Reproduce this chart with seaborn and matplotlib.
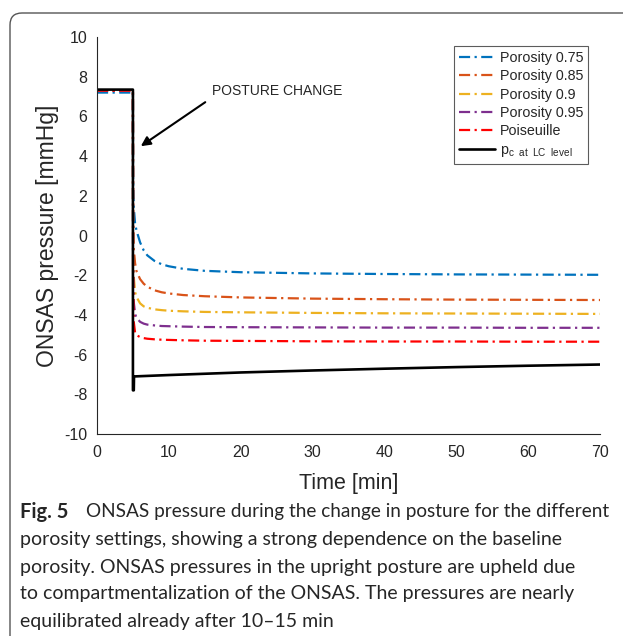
import matplotlib
matplotlib.use("Agg")
import matplotlib.pyplot as plt
import seaborn as sns
from matplotlib.patches import FancyBboxPatch
from matplotlib.transforms import IdentityTransform

# ---- data ----
t_por = [0, 5.0, 5.02, 5.1, 5.3, 5.5, 6.0, 6.5, 7.0, 8.0, 9.0, 10, 12, 15, 20, 30, 40, 50, 60, 70]
p_075 = [7.2, 7.2, 3.0, 1.5, 0.6, 0.25, -0.35, -0.75, -1.0, -1.28, -1.45, -1.55, -1.68, -1.78, -1.85, -1.91, -1.94, -1.96, -1.97, -1.98]
p_085 = [7.3, 7.3, 1.0, -0.6, -1.4, -1.8, -2.2, -2.43, -2.58, -2.76, -2.86, -2.92, -3.0, -3.06, -3.12, -3.18, -3.21, -3.23, -3.24, -3.25]
p_090 = [7.3, 7.3, 0.0, -2.0, -2.85, -3.1, -3.42, -3.57, -3.64, -3.72, -3.76, -3.79, -3.82, -3.85, -3.87, -3.9, -3.92, -3.93, -3.94, -3.95]
p_095 = [7.3, 7.3, -1.0, -3.3, -3.95, -4.15, -4.35, -4.44, -4.49, -4.53, -4.56, -4.57, -4.59, -4.61, -4.62, -4.63, -4.64, -4.64, -4.65, -4.65]
p_pois = [7.3, 7.3, -2.0, -4.3, -4.9, -5.02, -5.12, -5.17, -5.2, -5.23, -5.25, -5.26, -5.28, -5.3, -5.31, -5.33, -5.34, -5.34, -5.35, -5.35]
t_pc = [0, 5, 5, 5.12, 5.15, 10, 20, 30, 40, 50, 60, 70]
p_pc = [7.35, 7.35, -7.8, -7.8, -7.1, -7.03, -6.9, -6.8, -6.71, -6.63, -6.56, -6.5]

labels = ["Porosity 0.75", "Porosity 0.85", "Porosity 0.9", "Porosity 0.95", "Poiseuille",
          r"p$_{\mathregular{c\ \ at\ \ LC\ \ level}}$"]
colors = ["#0072BD", "#D95319", "#EDB120", "#7E2F8E", "#FF0000", "#000000"]
x_ticks = [0, 10, 20, 30, 40, 50, 60, 70]
y_ticks = [-10, -8, -6, -4, -2, 0, 2, 4, 6, 8, 10]

sns.set_style("white")
plt.rcParams["font.family"] = ["Liberation Sans", "DejaVu Sans"]
plt.rcParams["mathtext.fontset"] = "custom"
plt.rcParams["mathtext.rm"] = "Liberation Sans"
plt.rcParams["mathtext.it"] = "Liberation Sans"

fig = plt.figure(figsize=(6.23, 6.36), dpi=100)
ax = fig.add_axes([97/623, 1-434/636, 503/623, 397/636])

series = [p_075, p_085, p_090, p_095, p_pois]
for vals, lab, col in zip(series, labels[:5], colors[:5]):
    sns.lineplot(x=t_por, y=vals, ax=ax, color=col, label=lab, estimator=None,
                 sort=False, linewidth=1.6, linestyle=(0, (5, 2, 1, 2)))
sns.lineplot(x=t_pc, y=p_pc, ax=ax, color=colors[5], label=labels[5], estimator=None,
             sort=False, linewidth=1.9)

ax.set_xlim(0, 70)
ax.set_ylim(-10, 10)
ax.set_xticks(x_ticks)
ax.set_yticks(y_ticks)
ax.set_xticklabels([str(v) for v in x_ticks])
ax.set_yticklabels([str(v) for v in y_ticks])
ax.tick_params(direction="in", length=4, width=0.8, colors="#262626", labelsize=11.5)
ax.tick_params(axis="x", pad=8)
ax.tick_params(axis="y", pad=7)
for s in ["top", "right"]:
    ax.spines[s].set_visible(False)
for s in ["left", "bottom"]:
    ax.spines[s].set_color("#262626")
    ax.spines[s].set_linewidth(0.8)
ax.set_xlabel("Time [min]", fontsize=15.5, labelpad=9)
ax.set_ylabel("ONSAS pressure [mmHg]", fontsize=16.5, labelpad=4)

ax.annotate("POSTURE CHANGE", xy=(6.1, 4.5), xytext=(16, 7.3), fontsize=10,
            va="center", ha="left",
            arrowprops=dict(arrowstyle="-|>", color="black", lw=1.5,
                            shrinkA=3, shrinkB=0, mutation_scale=14,
                            relpos=(0, 0.0)))

leg = ax.legend(loc="upper right", bbox_to_anchor=(0.977, 0.977), borderaxespad=0,
                fontsize=10.3, frameon=True, fancybox=False, edgecolor="#333333",
                handlelength=2.5, handletextpad=0.35, labelspacing=0.3,
                borderpad=0.35)
leg.get_frame().set_linewidth(0.8)

# caption
cap_x = 20
cap_font = ["Lato", "DejaVu Sans"]
fig.text(cap_x/623, 1-512/636, "Fig. 5", fontsize=14.5, fontweight="bold", va="center",
         ha="left", family=cap_font)
fig.text(86/623, 1-512/636,
         "ONSAS pressure during the change in posture for the different",
         fontsize=13.7, va="center", ha="left", family=cap_font)
cap_lines = ["porosity settings, showing a strong dependence on the baseline",
             "porosity. ONSAS pressures in the upright posture are upheld due",
             "to compartmentalization of the ONSAS. The pressures are nearly",
             "equilibrated already after 10\u201315 min"]
for i, line in enumerate(cap_lines):
    fig.text(cap_x/623, 1-(540+27*i)/636, line, fontsize=14, va="center", ha="left",
             family=cap_font)

frame = FancyBboxPatch((10, -60), 700, 636-13+60, boxstyle="round,pad=0,rounding_size=12",
                       transform=IdentityTransform(), fill=False, edgecolor="#555555",
                       linewidth=1.0)
fig.patches.append(frame)

fig.savefig("out.png", dpi=100)
